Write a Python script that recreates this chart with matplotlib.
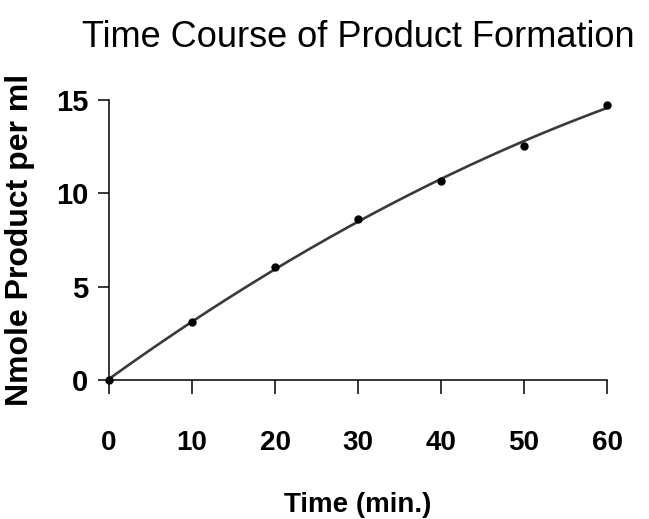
import numpy as np
import matplotlib.pyplot as plt

plt.rcParams['font.family'] = ['Liberation Sans', 'DejaVu Sans']

time_min = [0, 10, 20, 30, 40, 50, 60]
nmole = [0.0, 3.12, 6.03, 8.64, 10.66, 12.55, 14.75]
x_ticks = [0, 10, 20, 30, 40, 50, 60]
y_ticks = [0, 5, 10, 15]

# trendline (2nd order polynomial fit of the points)
coef = np.polyfit(time_min, nmole, 2)
x_fit = np.linspace(0, 60, 200)
y_fit = np.polyval(coef, x_fit)

fig = plt.figure(figsize=(6.49, 5.19), dpi=100)
ax = fig.add_axes([0.168, 0.2678, 0.7673, 0.5395])

ax.plot(x_fit, y_fit, color='#3a3a3a', lw=1.9, zorder=2)
ax.plot(time_min, nmole, 'o', color='black', ms=5, zorder=3, clip_on=False)

ax.set_xlim(0, 60)
ax.set_ylim(0, 15)
ax.set_xticks(x_ticks, labels=[str(v) for v in x_ticks],
              fontsize=20, fontweight='bold')
ax.set_yticks(y_ticks, labels=[str(v) for v in y_ticks],
              fontsize=21, fontweight='bold')
for s in ['top', 'right']:
    ax.spines[s].set_visible(False)
for s in ['left', 'bottom']:
    ax.spines[s].set_linewidth(1.1)

ax.tick_params(axis='x', direction='out', length=10, width=1.1, pad=26)
ax.tick_params(axis='y', direction='out', length=8, width=1.1, pad=7)

ax.set_xlabel('Time (min.)', fontsize=20, fontweight='bold', labelpad=26)
ax.set_ylabel('Nmole Product per ml', fontsize=23, fontweight='bold', labelpad=15)
ax.set_title('Time Course of Product Formation', fontsize=26, pad=38)

fig.savefig('out.png', dpi=100)
